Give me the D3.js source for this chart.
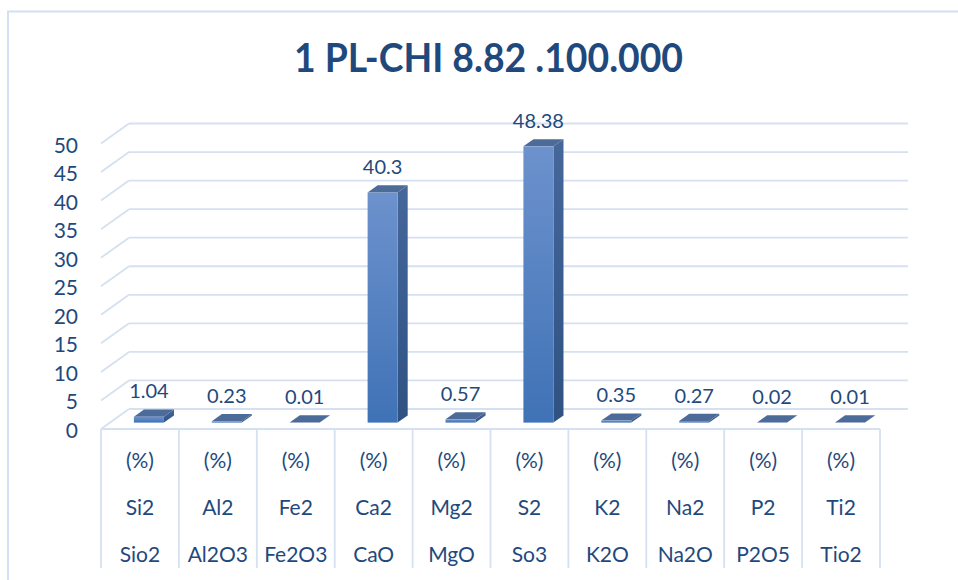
<!DOCTYPE html>
<html>
<head>
<meta charset="utf-8">
<script src="https://cdn.jsdelivr.net/npm/d3@7"></script>
<style>
  body { margin: 0; background: #fff; }
  text { font-family: Lato, "Open Sans", sans-serif; fill: #1f497d; }
</style>
</head>
<body>
<div id="chart"></div>
<script>
// chart data
const formulas = ['Sio2', 'Al2O3', 'Fe2O3', 'CaO', 'MgO', 'So3', 'K2O', 'Na2O', 'P2O5', 'Tio2']
const elements = ['Si2', 'Al2', 'Fe2', 'Ca2', 'Mg2', 'S2', 'K2', 'Na2', 'P2', 'Ti2']
const units = ['(%)', '(%)', '(%)', '(%)', '(%)', '(%)', '(%)', '(%)', '(%)', '(%)']
const values = [1.04, 0.23, 0.01, 40.3, 0.57, 48.38, 0.35, 0.27, 0.02, 0.01]
const yTicks = [0, 5, 10, 15, 20, 25, 30, 35, 40, 45, 50]
const title = '1 PL-CHI 8.82 .100.000'

const W = 958, H = 580
const gridColor = '#d5e0f1'

// the front plane of the plot, plus an offset to reach the back wall
const x = d3.scaleBand()
    .domain(formulas)
    .range([101, 880])

const y = d3.scaleLinear()
    .domain([0, 50])
    .range([429, 143.5])

const depth = { dx: 28, dy: -20 }
const barFront = 0.32, barBack = 0.68
const barWidth = 30

const svg = d3.select('#chart')
    .append('svg')
    .attr('width', W)
    .attr('height', H)

const defs = svg.append('defs')
const frontGrad = defs.append('linearGradient')
    .attr('id', 'front').attr('x1', 0).attr('y1', 0).attr('x2', 0).attr('y2', 1)
frontGrad.append('stop').attr('offset', '0%').attr('stop-color', '#6d92cd')
frontGrad.append('stop').attr('offset', '100%').attr('stop-color', '#3f72b6')
const sideGrad = defs.append('linearGradient')
    .attr('id', 'side').attr('x1', 0).attr('y1', 0).attr('x2', 0).attr('y2', 1)
sideGrad.append('stop').attr('offset', '0%').attr('stop-color', '#45679a')
sideGrad.append('stop').attr('offset', '100%').attr('stop-color', '#2f5283')

// outer border of the chart area
svg.append('rect')
    .attr('x', 8)
    .attr('y', 11.5)
    .attr('width', 960)
    .attr('height', 600)
    .attr('fill', 'none')
    .attr('stroke', '#d3dff2')
    .attr('stroke-width', 2)

svg.append('text')
    .attr('x', 488.5)
    .attr('y', 72)
    .attr('text-anchor', 'middle')
    .style('font-size', '40px')
    .style('font-weight', 'bold')
    .attr('textLength', 389)
    .attr('lengthAdjust', 'spacingAndGlyphs')
    .text(title)

// gridlines: diagonal on the side wall, straight on the back wall
const grid = svg.append('g')
    .attr('stroke', gridColor)
    .attr('stroke-width', 1.8)
    .attr('fill', 'none')

grid.selectAll('.diag')
    .data(yTicks)
    .enter()
    .append('line')
    .attr('x1', x.range()[0])
    .attr('y1', d => y(d))
    .attr('x2', x.range()[0] + depth.dx)
    .attr('y2', d => y(d) + depth.dy)

grid.selectAll('.back')
    .data(yTicks)
    .enter()
    .append('line')
    .attr('x1', x.range()[0] + depth.dx)
    .attr('y1', d => y(d) + depth.dy)
    .attr('x2', x.range()[1] + depth.dx)
    .attr('y2', d => y(d) + depth.dy)

// front floor edge
grid.append('line')
    .attr('x1', x.range()[0])
    .attr('y1', y(0))
    .attr('x2', x.range()[1])
    .attr('y2', y(0))

// category table lines
const cuts = formulas.map(d => x(d)).concat([x.range()[1]])
grid.selectAll('.cut')
    .data(cuts)
    .enter()
    .append('line')
    .attr('x1', d => d)
    .attr('y1', y(0))
    .attr('x2', d => d)
    .attr('y2', 568)

// y axis labels
svg.selectAll('.tick-label')
    .data(yTicks)
    .enter()
    .append('text')
    .attr('x', 78)
    .attr('y', d => y(d) + 9)
    .attr('text-anchor', 'end')
    .style('font-size', '21px')
    .text(d => d)

// 3d bars
const bars = svg.selectAll('.bar')
    .data(formulas.map((f, i) => ({ name: f, value: values[i] })))
    .enter()
    .append('g')

const fx = d => x(d.name) + x.bandwidth() / 2 + depth.dx * barFront - barWidth / 2
const fy0 = y(0) + depth.dy * barFront
const fy1 = d => y(d.value) + depth.dy * barFront
const ox = depth.dx * (barBack - barFront)
const oy = depth.dy * (barBack - barFront)

bars.append('path')
    .attr('fill', 'url(#side)')
    .attr('d', d => {
        const xr = fx(d) + barWidth
        return `M${xr},${fy1(d)}L${xr + ox},${fy1(d) + oy}L${xr + ox},${fy0 + oy}L${xr},${fy0}Z`
    })

bars.append('path')
    .attr('fill', '#4d6b99')
    .attr('d', d => {
        const xl = fx(d), t = fy1(d)
        return `M${xl},${t}L${xl + barWidth},${t}L${xl + barWidth + ox},${t + oy}L${xl + ox},${t + oy}Z`
    })

bars.append('rect')
    .attr('fill', 'url(#front)')
    .attr('x', d => fx(d))
    .attr('y', d => fy1(d))
    .attr('width', barWidth)
    .attr('height', d => fy0 - fy1(d))

// value labels above the bars
bars.append('text')
    .attr('x', d => fx(d) + barWidth / 2)
    .attr('y', d => y(d.value) - 24.6)
    .attr('text-anchor', 'middle')
    .style('font-size', '20px')
    .text(d => d.value)

// three rows of category labels
const rows = [units, elements, formulas]
const rowY = [467.5, 515, 561.7]
rows.forEach((row, r) => {
    svg.selectAll('.row' + r)
        .data(row)
        .enter()
        .append('text')
        .attr('x', (d, i) => x(formulas[i]) + x.bandwidth() / 2)
        .attr('y', rowY[r])
        .attr('text-anchor', 'middle')
        .style('font-size', '21px')
        .text(d => d)
})
</script>
</body>
</html>
